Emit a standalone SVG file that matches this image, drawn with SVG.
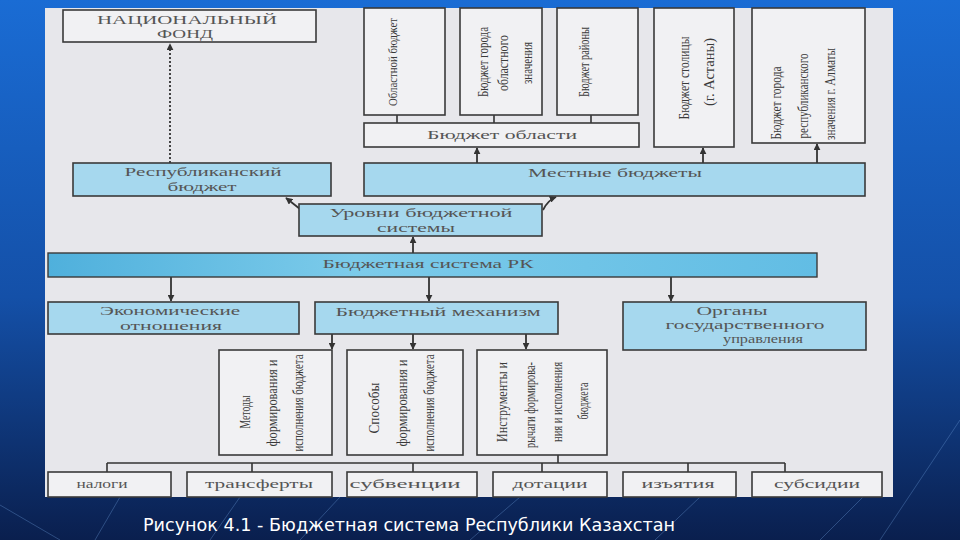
<svg xmlns="http://www.w3.org/2000/svg" width="960" height="540" viewBox="0 0 960 540">
<defs>
<linearGradient id="bg" x1="0" y1="0" x2="0" y2="1">
<stop offset="0" stop-color="#1a6cd4"/>
<stop offset="0.55" stop-color="#1450a8"/>
<stop offset="1" stop-color="#0a1f4e"/>
</linearGradient>
<linearGradient id="bar" x1="0" y1="0" x2="1" y2="0">
<stop offset="0" stop-color="#4fb0dc"/>
<stop offset="0.4" stop-color="#7ccbea"/>
<stop offset="1" stop-color="#62bde4"/>
</linearGradient>
<marker id="ah" viewBox="0 0 10 10" refX="9" refY="5" markerWidth="7" markerHeight="7" orient="auto" markerUnits="userSpaceOnUse">
<path d="M0,0 L10,5 L0,10 z" fill="#333"/>
</marker>
<style>
.box{fill:#f1f1f3;stroke:#3a3a3a;stroke-width:1.6}
.blue{fill:#a6d8ee;stroke:#3a3a3a;stroke-width:1.6}
.t{font-family:"Liberation Serif",serif;font-size:12px;fill:#555;text-anchor:middle;dominant-baseline:central}
.v{font-family:"Liberation Serif",serif;font-size:14px;fill:#3a3a3a;text-anchor:middle;dominant-baseline:central}
.ln{stroke:#333;stroke-width:1.6;fill:none}
.ar{stroke:#333;stroke-width:1.8;fill:none;marker-end:url(#ah)}
</style>
</defs>
<rect x="0" y="0" width="960" height="540" fill="url(#bg)"/>
<g stroke="#6f9fdc" stroke-width="1" opacity="0.35" fill="none">
<path d="M0,505 L60,540"/><path d="M120,497 L95,540"/><path d="M340,497 L300,540"/><path d="M520,497 L470,540"/><path d="M700,497 L655,540"/><path d="M880,480 L820,540"/><path d="M960,420 L880,540"/><path d="M240,497 L210,540"/>
</g>
<rect x="45" y="8" width="848" height="489" fill="#e7e7eb"/>

<g id="connectors">
<line class="ar" x1="170" y1="163" x2="170" y2="44" stroke-dasharray="2,2"/>
<line class="ln" x1="397" y1="115" x2="397" y2="123"/>
<line class="ln" x1="494" y1="115" x2="494" y2="123"/>
<line class="ln" x1="591" y1="115" x2="591" y2="123"/>
<line class="ar" x1="477" y1="163" x2="477" y2="148"/>
<line class="ar" x1="703" y1="163" x2="703" y2="148"/>
<line class="ar" x1="817" y1="163" x2="817" y2="144"/>
<path class="ar" d="M300,209 L286,198"/>
<path class="ar" d="M543,210 Q548,200 556,197"/>
<line class="ar" x1="413" y1="253" x2="413" y2="237"/>
<line class="ar" x1="171" y1="277" x2="171" y2="301"/>
<line class="ar" x1="429" y1="277" x2="429" y2="301"/>
<line class="ar" x1="671" y1="277" x2="671" y2="301"/>
<line class="ar" x1="332" y1="334" x2="332" y2="349"/>
<line class="ar" x1="413" y1="334" x2="413" y2="349"/>
<line class="ar" x1="526" y1="334" x2="526" y2="349"/>
<line class="ln" x1="558" y1="455" x2="558" y2="463"/>
<line class="ln" x1="107" y1="463" x2="785" y2="463"/>
<line class="ln" x1="107" y1="463" x2="107" y2="472"/>
<line class="ln" x1="252" y1="463" x2="252" y2="472"/>
<line class="ln" x1="413" y1="463" x2="413" y2="472"/>
<line class="ln" x1="542" y1="463" x2="542" y2="472"/>
<line class="ln" x1="688" y1="463" x2="688" y2="472"/>
<line class="ln" x1="785" y1="463" x2="785" y2="472"/>
</g>

<g id="nacfond"><rect class="box" x="63" y="10" width="253" height="32"/>
<text class="t" x="187" y="20" textLength="180" lengthAdjust="spacingAndGlyphs">НАЦИОНАЛЬНЫЙ</text>
<text class="t" x="185" y="34" textLength="56" lengthAdjust="spacingAndGlyphs">ФОНД</text></g>

<g id="oblastnoy"><rect class="box" x="364" y="8" width="81" height="107"/>
<text class="v" style="font-size:12px" transform="translate(393,62) rotate(-90)" textLength="88" lengthAdjust="spacingAndGlyphs">Областной бюджет</text></g>

<g id="gorod-obl"><rect class="box" x="460" y="8" width="82" height="107"/>
<text class="v" transform="translate(483,62) rotate(-90)" textLength="70" lengthAdjust="spacingAndGlyphs">Бюджет города</text>
<text class="v" transform="translate(503,63) rotate(-90)" textLength="56" lengthAdjust="spacingAndGlyphs">областного</text>
<text class="v" transform="translate(527,63) rotate(-90)" textLength="42" lengthAdjust="spacingAndGlyphs">значения</text></g>

<g id="rayon"><rect class="box" x="557" y="8" width="81" height="107"/>
<text class="v" transform="translate(584,62) rotate(-90)" textLength="70" lengthAdjust="spacingAndGlyphs">Бюджет районы</text></g>

<g id="stolica"><rect class="box" x="654" y="8" width="80" height="139"/>
<text class="v" transform="translate(684,78) rotate(-90)" textLength="83" lengthAdjust="spacingAndGlyphs">Бюджет столицы</text>
<text class="v" transform="translate(709,72) rotate(-90)" textLength="68" lengthAdjust="spacingAndGlyphs">(г. Астаны)</text></g>

<g id="almaty"><rect class="box" x="752" y="8" width="113" height="135"/>
<text class="v" transform="translate(776,103) rotate(-90)" textLength="73" lengthAdjust="spacingAndGlyphs">Бюджет города</text>
<text class="v" transform="translate(803,96) rotate(-90)" textLength="85" lengthAdjust="spacingAndGlyphs">республиканского</text>
<text class="v" transform="translate(830,94) rotate(-90)" textLength="92" lengthAdjust="spacingAndGlyphs">значения г. Алматы</text></g>

<g id="oblasti"><rect class="box" x="364" y="123" width="275" height="24"/>
<text class="t" x="502" y="135" textLength="150" lengthAdjust="spacingAndGlyphs">Бюджет области</text></g>

<g id="respublik"><rect class="blue" x="73" y="163" width="258" height="33"/>
<text class="t" x="203" y="172" textLength="157" lengthAdjust="spacingAndGlyphs">Республиканский</text>
<text class="t" x="202" y="187" textLength="69" lengthAdjust="spacingAndGlyphs">бюджет</text></g>

<g id="mestnye"><rect class="blue" x="364" y="163" width="501" height="33"/>
<text class="t" x="615" y="173" textLength="174" lengthAdjust="spacingAndGlyphs">Местные бюджеты</text></g>

<g id="urovni"><rect class="blue" x="299" y="204" width="243" height="32"/>
<text class="t" x="421" y="213" textLength="183" lengthAdjust="spacingAndGlyphs">Уровни бюджетной</text>
<text class="t" x="416" y="228" textLength="78" lengthAdjust="spacingAndGlyphs">системы</text></g>

<g id="bsrk"><rect x="48" y="253" width="769" height="24" fill="url(#bar)" stroke="#3a3a3a" stroke-width="1.4"/>
<text class="t" x="428" y="264" textLength="211" lengthAdjust="spacingAndGlyphs">Бюджетная система РК</text></g>

<g id="ekonom"><rect class="blue" x="48" y="302" width="251" height="32"/>
<text class="t" x="170" y="311" textLength="140" lengthAdjust="spacingAndGlyphs">Экономические</text>
<text class="t" x="171" y="326" textLength="102" lengthAdjust="spacingAndGlyphs">отношения</text></g>

<g id="mehanizm"><rect class="blue" x="315" y="302" width="243" height="32"/>
<text class="t" x="438" y="312" textLength="205" lengthAdjust="spacingAndGlyphs">Бюджетный механизм</text></g>

<g id="organy"><rect class="blue" x="623" y="302" width="243" height="48"/>
<text class="t" x="732" y="311" textLength="71" lengthAdjust="spacingAndGlyphs">Органы</text>
<text class="t" x="745" y="325" textLength="159" lengthAdjust="spacingAndGlyphs">государственного</text>
<text class="t" x="763" y="339" textLength="80" lengthAdjust="spacingAndGlyphs">управления</text></g>

<g id="metody"><rect class="box" x="219" y="350" width="113" height="105"/>
<text class="v" transform="translate(245,412) rotate(-90)" textLength="33" lengthAdjust="spacingAndGlyphs">Методы</text>
<text class="v" transform="translate(272,403) rotate(-90)" textLength="87" lengthAdjust="spacingAndGlyphs">формирования и</text>
<text class="v" transform="translate(298,403) rotate(-90)" textLength="97" lengthAdjust="spacingAndGlyphs">исполнения бюджета</text></g>

<g id="sposoby"><rect class="box" x="347" y="350" width="116" height="105"/>
<text class="v" transform="translate(374,408) rotate(-90)" textLength="51" lengthAdjust="spacingAndGlyphs">Способы</text>
<text class="v" transform="translate(402,403) rotate(-90)" textLength="87" lengthAdjust="spacingAndGlyphs">формирования и</text>
<text class="v" transform="translate(429,403) rotate(-90)" textLength="97" lengthAdjust="spacingAndGlyphs">исполнения бюджета</text></g>

<g id="instrumenty"><rect class="box" x="477" y="350" width="130" height="105"/>
<text class="v" transform="translate(502,402) rotate(-90)" textLength="80" lengthAdjust="spacingAndGlyphs">Инструменты и</text>
<text class="v" transform="translate(530,405) rotate(-90)" textLength="86" lengthAdjust="spacingAndGlyphs">рычаги формирова-</text>
<text class="v" transform="translate(557,402) rotate(-90)" textLength="80" lengthAdjust="spacingAndGlyphs">ния и исполнения</text>
<text class="v" transform="translate(583,401) rotate(-90)" textLength="37" lengthAdjust="spacingAndGlyphs">бюджета</text></g>

<g id="nalogi"><rect class="box" x="48" y="472" width="123" height="25"/>
<text class="t" x="102" y="484" textLength="51" lengthAdjust="spacingAndGlyphs">налоги</text></g>
<g id="transferty"><rect class="box" x="187" y="472" width="145" height="25"/>
<text class="t" x="259" y="484" textLength="108" lengthAdjust="spacingAndGlyphs">трансферты</text></g>
<g id="subvencii"><rect class="box" x="347" y="472" width="130" height="25"/>
<text class="t" x="405" y="484" textLength="111" lengthAdjust="spacingAndGlyphs">субвенции</text></g>
<g id="dotacii"><rect class="box" x="493" y="472" width="114" height="25"/>
<text class="t" x="550" y="484" textLength="75" lengthAdjust="spacingAndGlyphs">дотации</text></g>
<g id="izyatiya"><rect class="box" x="623" y="472" width="113" height="25"/>
<text class="t" x="678" y="484" textLength="73" lengthAdjust="spacingAndGlyphs">изъятия</text></g>
<g id="subsidii"><rect class="box" x="752" y="472" width="130" height="25"/>
<text class="t" x="817" y="484" textLength="86" lengthAdjust="spacingAndGlyphs">субсидии</text></g>

<text x="143" y="531" font-family="'DejaVu Sans',sans-serif" font-size="17" fill="#ffffff" textLength="532" lengthAdjust="spacingAndGlyphs">Рисунок 4.1 - Бюджетная система Республики Казахстан</text>
</svg>
